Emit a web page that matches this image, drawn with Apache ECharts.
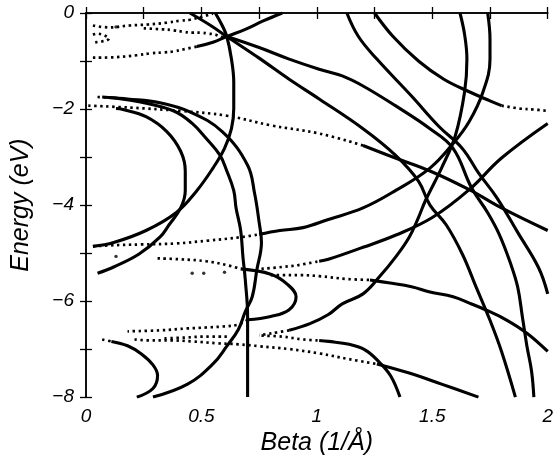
<!DOCTYPE html>
<html>
<head>
<meta charset="utf-8">
<script src="https://cdn.jsdelivr.net/npm/echarts@6/dist/echarts.min.js"></script>
<style>
  html, body { margin: 0; padding: 0; background: #fff; }
  #main { width: 556px; height: 461px; }
</style>
</head>
<body>
<div id="main"></div>
<script>
// curves, [beta, energy]
// solid pieces
var arcKnot = [[0.56,0.0],[0.59,-0.26],[0.61,-0.49],[0.63,-0.96],[0.64,-1.44],[0.64,-1.99],[0.63,-2.41],[0.60,-2.82],[0.55,-3.23],[0.48,-3.70],[0.39,-4.16],[0.26,-4.53],[0.12,-4.78],[0.03,-4.86]];
var innerC = [[0.13,-1.99],[0.16,-2.01],[0.26,-2.16],[0.35,-2.47],[0.41,-2.88],[0.43,-3.29],[0.43,-3.70],[0.41,-4.06],[0.36,-4.41],[0.32,-4.67],[0.23,-5.02],[0.12,-5.29],[0.05,-5.42]];
var midFan = [[0.07,-1.75],[0.12,-1.77],[0.23,-1.85],[0.38,-2.04],[0.46,-2.30],[0.52,-2.61],[0.58,-2.96],[0.61,-3.29],[0.64,-3.70],[0.65,-4.06],[0.67,-4.53],[0.68,-5.09],[0.69,-5.56],[0.70,-6.32],[0.70,-6.94],[0.70,-7.56],[0.70,-8.0]];
var outerFan = [[0.10,-1.76],[0.18,-1.79],[0.32,-1.87],[0.45,-2.06],[0.59,-2.47],[0.70,-3.17],[0.73,-3.75],[0.75,-4.36],[0.76,-4.78],[0.74,-5.35],[0.72,-5.91],[0.69,-6.22],[0.66,-6.59],[0.61,-6.94],[0.55,-7.31],[0.44,-7.73],[0.29,-8.0]];
var smallC = [[0.11,-6.84],[0.18,-6.93],[0.24,-7.10],[0.29,-7.33],[0.31,-7.55],[0.29,-7.82],[0.22,-8.0]];
var loop = [[0.67,-5.33],[0.80,-5.44],[0.87,-5.64],[0.91,-5.91],[0.88,-6.18],[0.80,-6.32],[0.70,-6.39]];
var riseR = [[1.01,-5.17],[1.05,-5.13],[1.20,-4.88],[1.34,-4.63],[1.50,-4.26],[1.66,-3.68],[1.80,-3.02],[2.0,-2.30]];
var row3 = [[1.23,-5.56],[1.31,-5.62],[1.41,-5.70],[1.49,-5.81],[1.59,-5.91],[1.67,-6.06],[1.73,-6.18],[1.82,-6.39],[1.91,-6.67],[2.0,-7.05]];
var arcQ = [[0.75,-4.61],[0.84,-4.53],[0.94,-4.47],[1.05,-4.30],[1.20,-4.06],[1.34,-3.70],[1.49,-3.23],[1.59,-2.72],[1.66,-2.26],[1.72,-1.64],[1.75,-0.96],[1.75,-0.55],[1.74,0.0]];
var arcP = [[1.62,0.0],[1.64,-0.45],[1.65,-0.96],[1.64,-1.64],[1.60,-2.55],[1.54,-3.23],[1.47,-3.91],[1.44,-4.26],[1.40,-4.67],[1.34,-5.09],[1.27,-5.50],[1.20,-5.85],[1.11,-6.06],[1.05,-6.28],[0.97,-6.47],[0.88,-6.61]];
var lineTop113 = [[1.13,0.0],[1.18,-0.49],[1.26,-0.96],[1.41,-1.73],[1.53,-2.37],[1.63,-2.82],[1.70,-3.33],[1.78,-3.85],[1.87,-4.57],[1.96,-5.30],[2.0,-5.85]];
var lineTop125 = [[1.25,0.0],[1.33,-0.49],[1.44,-1.0],[1.55,-1.38],[1.66,-1.64],[1.75,-1.83],[1.80,-1.93]];
var lineA = [[0.61,-0.49],[0.75,-0.72],[0.88,-0.96],[1.01,-1.17],[1.11,-1.31],[1.20,-1.52],[1.34,-1.93],[1.49,-2.41],[1.59,-2.82],[1.67,-3.64],[1.74,-4.16],[1.79,-4.61],[1.84,-5.23],[1.87,-5.71],[1.89,-6.32],[1.91,-6.94],[1.93,-7.46],[1.94,-8.0]];
var lineB = [[0.45,0.0],[0.54,-0.26],[0.61,-0.49],[0.75,-0.94],[0.88,-1.38],[1.01,-1.79],[1.20,-2.41],[1.34,-2.96],[1.44,-3.50],[1.49,-4.0],[1.56,-4.41],[1.63,-5.02],[1.69,-5.71],[1.75,-6.40],[1.80,-7.05],[1.86,-8.0]];
var lineD1 = [[1.20,-2.76],[1.34,-3.02],[1.49,-3.29],[1.66,-3.68],[1.80,-4.06],[2.0,-4.53]];
var curve16 = [[1.01,-6.82],[1.05,-6.84],[1.14,-6.90],[1.21,-7.02],[1.27,-7.27],[1.32,-7.56],[1.36,-8.0]];
var curve17 = [[1.26,-7.31],[1.40,-7.50],[1.54,-7.73],[1.70,-8.0]];
var curveD = [[0.48,-0.70],[0.55,-0.61],[0.61,-0.49],[0.69,-0.34],[0.77,-0.16],[0.85,0.0]];

// dotted pieces
var dotsD1 = [[0.01,-1.93],[0.19,-1.97],[0.41,-2.04],[0.61,-2.14],[0.80,-2.34],[1.01,-2.51],[1.20,-2.76]];
var dotsMid = [[0.05,-1.75],[0.10,-1.76]];
var dotsSmallC = [[0.07,-6.80],[0.11,-6.84]];
var dotsLoopTop = [[0.31,-5.11],[0.41,-5.13],[0.52,-5.17],[0.61,-5.25],[0.67,-5.33]];
var dotsLoopLow = [[0.70,-6.39],[0.66,-6.49],[0.59,-6.53],[0.52,-6.55],[0.44,-6.57],[0.32,-6.61],[0.18,-6.63]];
var dotsR = [[0.76,-5.33],[0.85,-5.29],[0.92,-5.25],[1.01,-5.17]];
var dotsRow3 = [[0.80,-5.46],[0.85,-5.46],[0.93,-5.46],[1.01,-5.48],[1.13,-5.54],[1.23,-5.56]];
var dotsQ = [[0.03,-4.86],[0.10,-4.84],[0.24,-4.82],[0.39,-4.80],[0.53,-4.74],[0.67,-4.67],[0.75,-4.61]];
var dotsP = [[0.88,-6.61],[0.83,-6.65],[0.78,-6.69],[0.75,-6.71]];
var dotsPLeft = [[0.61,-6.74],[0.51,-6.74],[0.43,-6.76],[0.33,-6.78]];
var dotsTop125 = [[1.80,-1.93],[1.88,-1.99],[1.94,-2.01],[2.0,-2.04]];
var dots16 = [[0.76,-6.72],[0.85,-6.74],[0.94,-6.80],[1.01,-6.82]];
var dots17 = [[0.21,-6.80],[0.28,-6.82],[0.37,-6.82],[0.46,-6.84],[0.57,-6.88],[0.66,-6.90],[0.75,-6.94],[0.88,-7.00],[1.01,-7.09],[1.14,-7.21],[1.26,-7.31]];
var dotsD = [[0.03,-0.93],[0.13,-0.92],[0.22,-0.88],[0.28,-0.84],[0.34,-0.82],[0.38,-0.80],[0.42,-0.76],[0.48,-0.70]];
var dotsA = [[0.03,-0.26],[0.10,-0.30],[0.19,-0.26],[0.27,-0.24],[0.35,-0.20],[0.41,-0.16],[0.45,-0.14],[0.50,-0.08],[0.55,-0.01]];
var dotsB = [[0.25,-0.32],[0.33,-0.34],[0.38,-0.36],[0.42,-0.39],[0.46,-0.41],[0.50,-0.41],[0.53,-0.43],[0.56,-0.45],[0.58,-0.49],[0.61,-0.51]];
var dotsLittleLoop = [[0.03,-0.45],[0.05,-0.43],[0.07,-0.45],[0.09,-0.49],[0.10,-0.53],[0.09,-0.57],[0.07,-0.59],[0.04,-0.61]];
var strayDots = [[0.13,-5.07],[0.46,-5.42],[0.51,-5.42],[0.60,-5.40],[0.13,-0.29]];

var solidCurves = [arcKnot, innerC, midFan, outerFan, smallC, loop, riseR, row3, arcQ, arcP,
  lineTop113, lineTop125, lineA, lineB, lineD1, curve16, curve17, curveD];
var dottedCurves = [dotsD1, dotsMid, dotsSmallC, dotsLoopTop, dotsLoopLow, dotsR, dotsRow3, dotsQ,
  dotsP, dotsPLeft, dotsTop125, dots16, dots17, dotsD, dotsA, dotsB, dotsLittleLoop];

var xTickLabels = { 0: '0', 0.5: '0.5', 1: '1', 1.5: '1.5', 2: '2' };
var yTickLabels = { 0: '0', '-2': '\u22122', '-4': '\u22124', '-6': '\u22126', '-8': '\u22128' };

var myChart = echarts.init(document.getElementById('main'));

var series = [];
solidCurves.forEach(function (d) {
  series.push({
    type: 'line', data: d, smooth: 0.4, symbol: 'none', silent: true,
    lineStyle: { color: '#000', width: 3.1 }
  });
});
dottedCurves.forEach(function (d) {
  series.push({
    type: 'line', data: d, smooth: 0.4, symbol: 'none', silent: true,
    lineStyle: { color: '#000', width: 2.7, type: [2.4, 3.6] }
  });
});
series.push({
  type: 'scatter', data: strayDots, symbolSize: 3.4, silent: true,
  itemStyle: { color: '#000' }
});

var labelFont = { fontFamily: 'Liberation Sans', fontStyle: 'italic', fontSize: 19, color: '#000' };
var nameFont = { fontFamily: 'Liberation Sans', fontStyle: 'italic', fontSize: 25, color: '#000' };
var axisLine = { show: true, lineStyle: { color: '#000', width: 1.5 } };
var tick = { show: true, inside: true, length: 6, lineStyle: { color: '#000', width: 1.3 } };

option = {
  animation: false,
  backgroundColor: '#fff',
  grid: { left: 86, right: 7, top: 13, bottom: 60 },
  xAxis: [
    {
      type: 'value', min: 0, max: 2, interval: 0.25, position: 'bottom',
      axisLine: axisLine, axisTick: tick, splitLine: { show: false },
      axisLabel: Object.assign({
        margin: 10,
        formatter: function (v) { return xTickLabels[v] !== undefined ? xTickLabels[v] : ''; }
      }, labelFont),
      name: 'Beta (1/\u00c5)', nameLocation: 'middle', nameGap: 33, nameTextStyle: nameFont
    },
    {
      type: 'value', min: 0, max: 2, interval: 0.25, position: 'top',
      axisLine: axisLine, axisTick: tick, splitLine: { show: false }, axisLabel: { show: false }
    }
  ],
  yAxis: [
    {
      type: 'value', min: -8, max: 0, interval: 1, position: 'left',
      axisLine: axisLine, axisTick: tick, splitLine: { show: false },
      axisLabel: Object.assign({
        margin: 12,
        formatter: function (v) { return yTickLabels[v] !== undefined ? yTickLabels[v] : ''; }
      }, labelFont),
      name: 'Energy (eV)', nameLocation: 'middle', nameGap: 52, nameTextStyle: nameFont
    },
    {
      type: 'value', min: -8, max: 0, interval: 1, position: 'right',
      axisLine: axisLine, axisTick: tick, splitLine: { show: false }, axisLabel: { show: false }
    }
  ],
  series: series
};

myChart.setOption(option);
</script>
</body>
</html>
